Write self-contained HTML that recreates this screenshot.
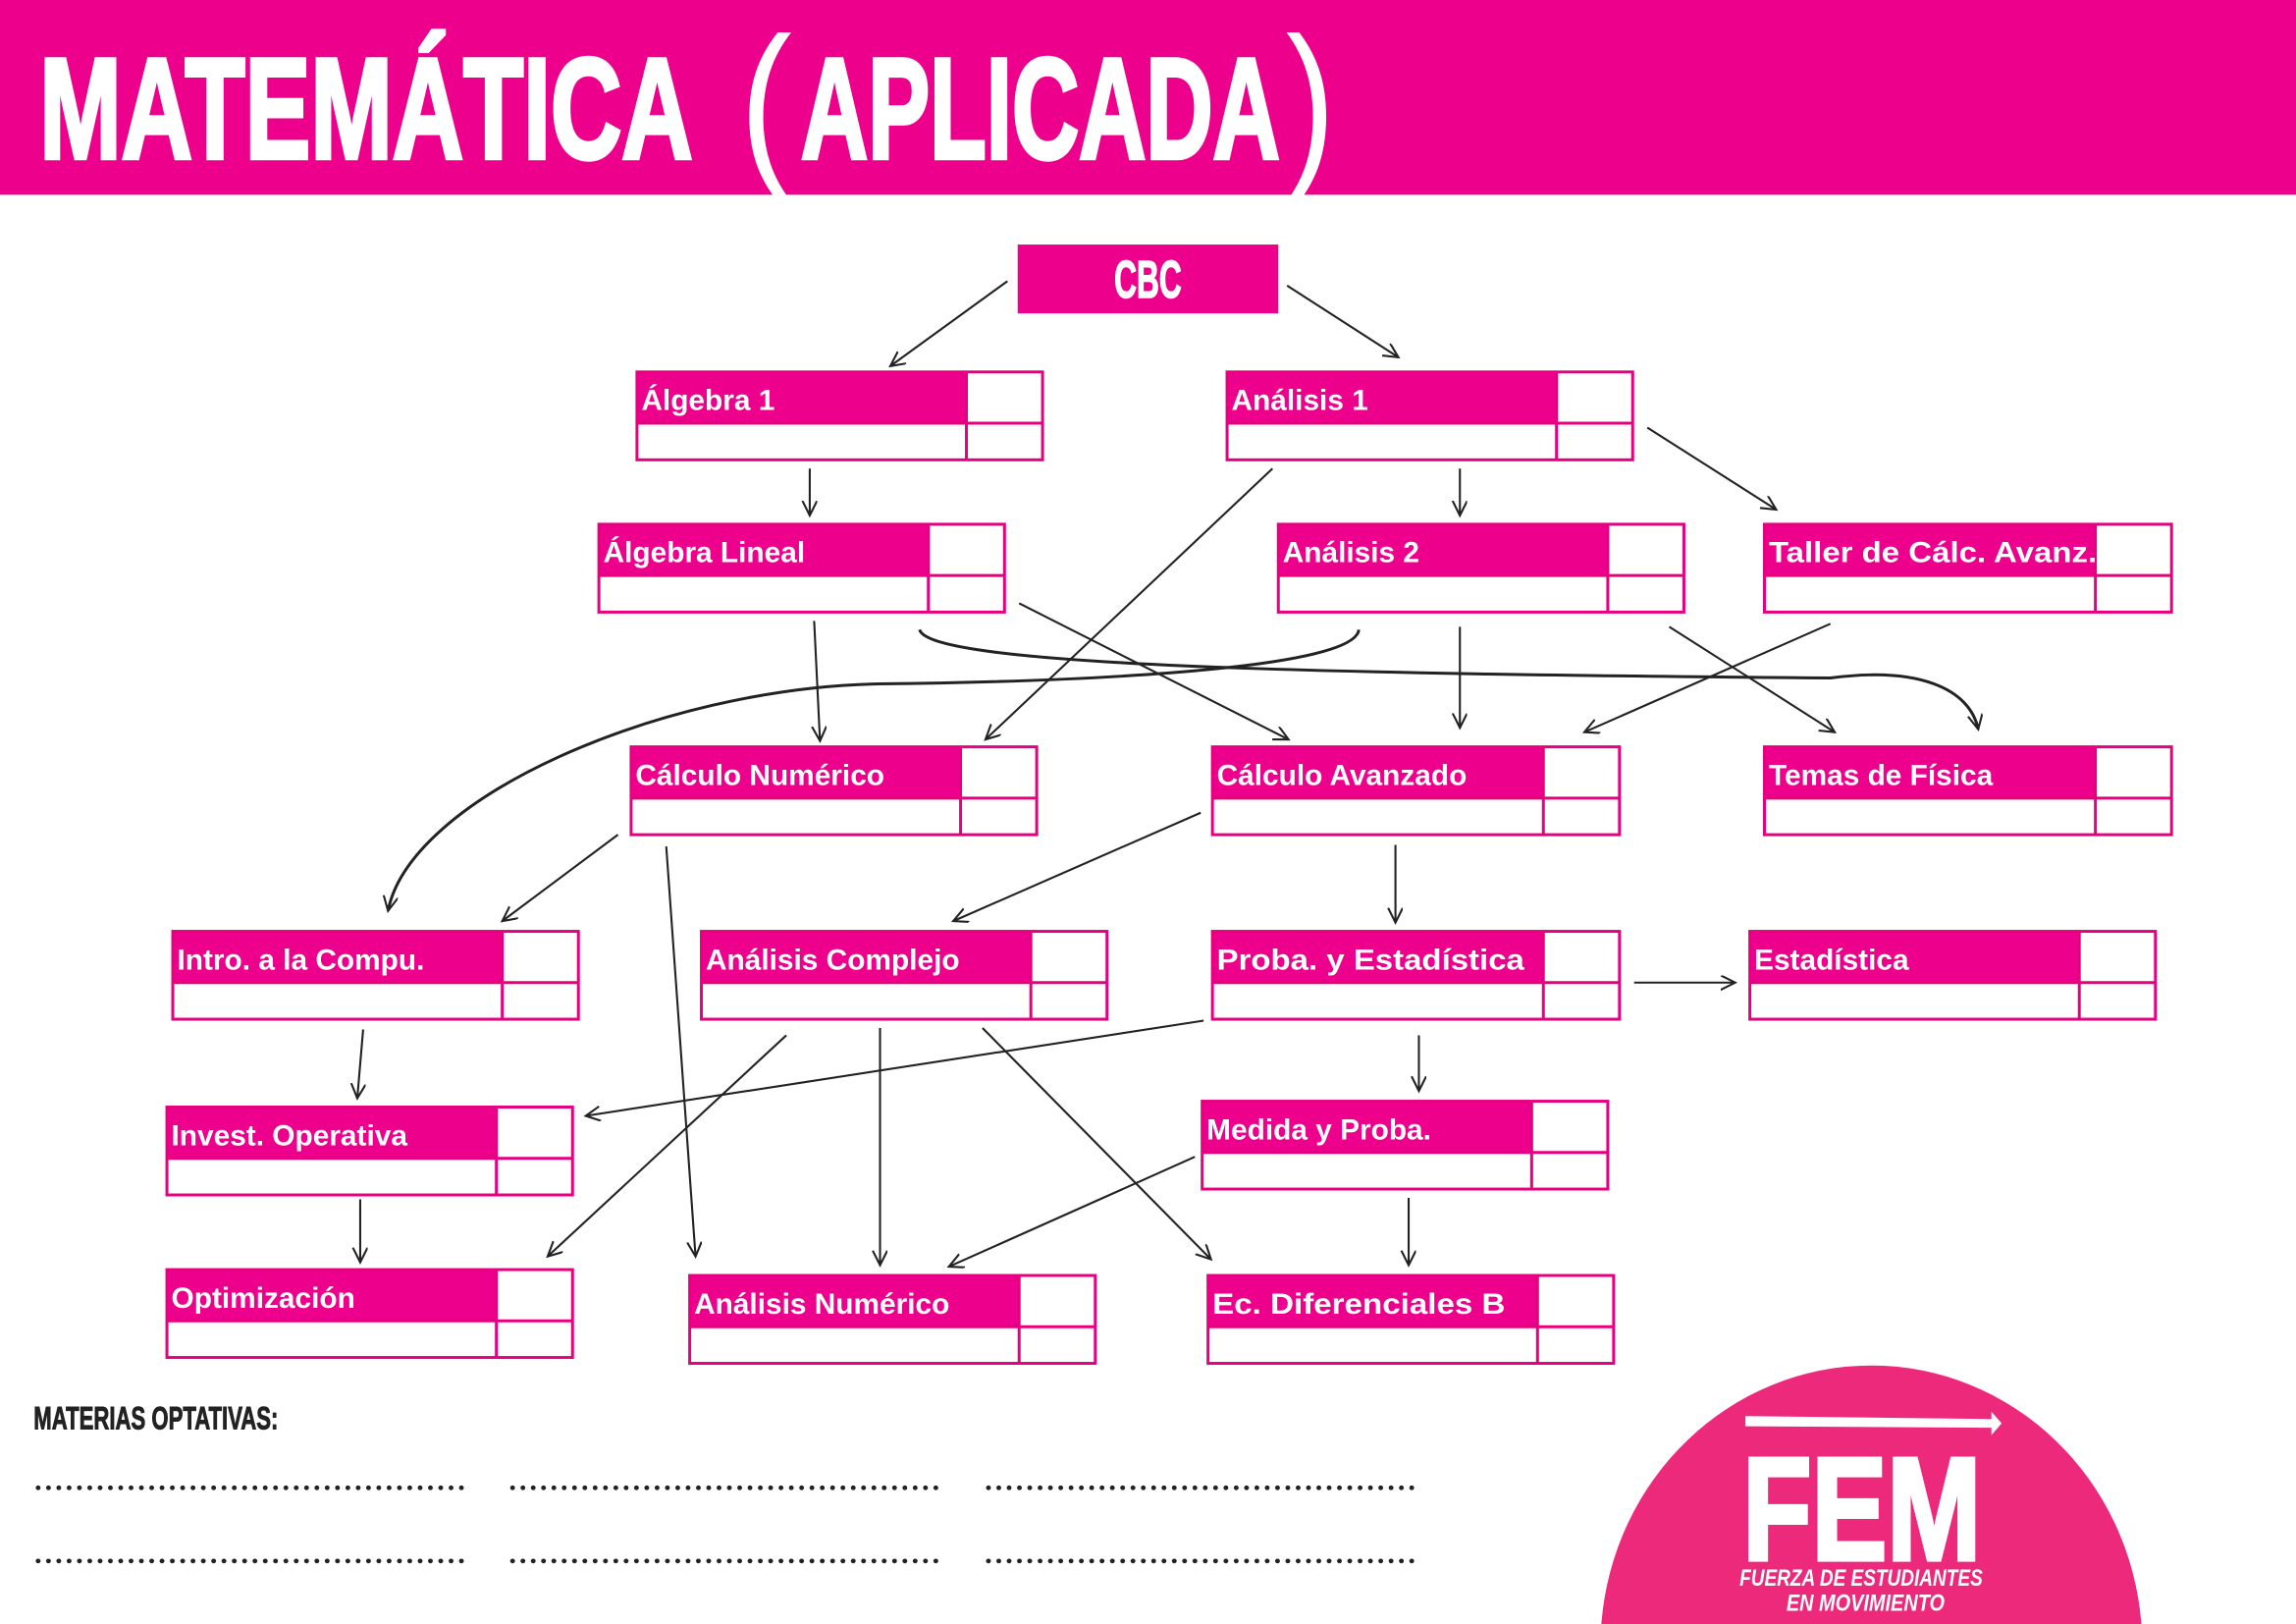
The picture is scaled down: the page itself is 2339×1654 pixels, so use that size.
<!DOCTYPE html>
<html><head><meta charset="utf-8"><style>
html,body{margin:0;padding:0;background:#fff;width:2339px;height:1654px;overflow:hidden;}
svg{display:block;overflow:hidden;}
</style></head><body>
<svg width="2339" height="1654" viewBox="0 0 1568 1109" preserveAspectRatio="none" xmlns="http://www.w3.org/2000/svg">
<defs>
<marker id="a" markerWidth="14" markerHeight="14" refX="10" refY="5" orient="auto" markerUnits="userSpaceOnUse">
<path d="M0,0 L10,5 L0,10" fill="none" stroke="#222" stroke-width="1.4"/>
</marker>
</defs>
<rect x="0" y="0" width="1568" height="133" fill="#ec008c"/>
<g fill="#fff" stroke="#fff" stroke-width="3" font-family="Liberation Sans Narrow, Liberation Sans, sans-serif" font-weight="bold">
<text x="27" y="108" font-size="98" textLength="446" lengthAdjust="spacingAndGlyphs">MATEMÁTICA</text>
<text x="547" y="108" font-size="98" textLength="327" lengthAdjust="spacingAndGlyphs">APLICADA</text>
</g>
<g fill="#fff" font-family="Liberation Sans Narrow, Liberation Sans, sans-serif">
<text x="505" y="112" font-size="124" textLength="36" lengthAdjust="spacingAndGlyphs">(</text>
<text x="878" y="112" font-size="124" textLength="34" lengthAdjust="spacingAndGlyphs">)</text>
</g>
<rect x="695" y="167" width="178" height="47" fill="#ec008c"/>
<text x="784" y="203" fill="#fff" stroke="#fff" stroke-width="1" font-family="Liberation Sans Narrow, Liberation Sans, sans-serif" font-weight="bold" font-size="36" text-anchor="middle" textLength="46" lengthAdjust="spacingAndGlyphs">CBC</text>

<g font-family="Liberation Sans, sans-serif" font-weight="bold" font-size="20" fill="#fff">
<g id="boxes"></g>
</g>
<script>
(function(){
var B=[["Álgebra 1",435,254,712,660],["Análisis 1",838,254,1115,1063],["Álgebra Lineal",409,358,686,634],["Análisis 2",873,358,1150,1098],["Taller de Cálc. Avanz.",1205,358,1483,1431,224],["Cálculo Numérico",431,510,708,656],["Cálculo Avanzado",828,510,1106,1054],["Temas de Física",1205,510,1483,1431],["Intro. a la Compu.",118,636,395,343],["Análisis Complejo",479,636,756,704],["Proba. y Estadística",828,636,1106,1054,210],["Estadística",1195,636,1472,1420],["Invest. Operativa",114,756,391,339],["Medida y Proba.",821,752,1098,1046],["Optimización",114,867,391,339],["Análisis Numérico",471,871,748,696],["Ec. Diferenciales B",825,871,1102,1050,200]];
var ns="http://www.w3.org/2000/svg",g=document.getElementById("boxes");
function el(t,a){var e=document.createElementNS(ns,t);for(var k in a)e.setAttribute(k,a[k]);g.appendChild(e);return e;}
B.forEach(function(b){var x=b[1],y=b[2],x2=b[3],d=b[4],h=60,hh=35;
el("rect",{x:x,y:y,width:d-x,height:hh,fill:"#ec008c"});
el("rect",{x:x,y:y,width:x2-x,height:h,fill:"none",stroke:"#e6007e","stroke-width":2});
el("line",{x1:x,y1:y+hh,x2:x2,y2:y+hh,stroke:"#e6007e","stroke-width":2});
el("line",{x1:d,y1:y,x2:d,y2:y+h,stroke:"#e6007e","stroke-width":2});
var a={x:x+3,y:y+26};if(b[5]){a.textLength=b[5];a.lengthAdjust="spacingAndGlyphs";}
var t=el("text",a);t.textContent=b[0];});
})();
</script>

<g stroke="#222" stroke-width="1.4" fill="none" marker-end="url(#a)">
<line x1="688" y1="192" x2="608" y2="250"/>
<line x1="879" y1="195" x2="955" y2="244"/>
<line x1="553" y1="320" x2="553" y2="352"/>
<line x1="997" y1="320" x2="997" y2="352"/>
<line x1="1125" y1="292" x2="1213" y2="348"/>
<line x1="869" y1="320" x2="673" y2="505"/>
<line x1="556" y1="424" x2="560" y2="506"/>
<line x1="696" y1="412" x2="880" y2="505"/>
<line x1="997" y1="428" x2="997" y2="497"/>
<line x1="1140" y1="428" x2="1253" y2="500"/>
<line x1="1250" y1="426" x2="1082" y2="500"/>
<path stroke-width="2" d="M628,430 C635,455 900,460 1250,463 C1310,455 1345,470 1351,498"/>
<path stroke-width="2" d="M928,430 C925,460 700,466 600,467 C450,470 280,545 265,622"/>
<line x1="422" y1="570" x2="343" y2="629"/>
<line x1="455" y1="578" x2="475" y2="858"/>
<line x1="820" y1="555" x2="651" y2="629"/>
<line x1="953" y1="577" x2="953" y2="630"/>
<line x1="1116" y1="671" x2="1185" y2="671"/>
<line x1="822" y1="697" x2="400" y2="762"/>
<line x1="969" y1="707" x2="969" y2="745"/>
<line x1="248" y1="703" x2="244" y2="750"/>
<line x1="246" y1="819" x2="246" y2="862"/>
<line x1="537" y1="707" x2="374" y2="858"/>
<line x1="601" y1="702" x2="601" y2="864"/>
<line x1="671" y1="702" x2="827" y2="860"/>
<line x1="816" y1="790" x2="648" y2="865"/>
<line x1="962" y1="818" x2="962" y2="864"/>
</g>

<text x="23" y="976" font-family="Liberation Sans Narrow, Liberation Sans, sans-serif" font-weight="bold" font-size="22" fill="#222" stroke="#222" stroke-width="0.6" textLength="167" lengthAdjust="spacingAndGlyphs">MATERIAS OPTATIVAS:</text>
<g stroke="#222" stroke-width="3.2" stroke-linecap="round" stroke-dasharray="0.1 6.95">
<line x1="26" y1="1016" x2="320" y2="1016"/><line x1="350" y1="1016" x2="644" y2="1016"/><line x1="675" y1="1016" x2="969" y2="1016"/>
<line x1="26" y1="1066" x2="320" y2="1066"/><line x1="350" y1="1066" x2="644" y2="1066"/><line x1="675" y1="1066" x2="969" y2="1066"/>
</g>

<path d="M1093.6,1109 A185,192 0 0 1 1462.4,1109 Z" fill="#ec297b"/>
<path d="M1192,967 L1360,969 L1360,964 L1367,972 L1360,980 L1360,975 L1192,974 Z" fill="#fff"/>
<text x="1190" y="1065" font-family="Liberation Sans Narrow, Liberation Sans, sans-serif" font-weight="bold" font-size="100" fill="#fff" stroke="#fff" stroke-width="3" textLength="163" lengthAdjust="spacingAndGlyphs">FEM</text>
<text x="1188" y="1083" font-family="Liberation Sans Narrow, Liberation Sans, sans-serif" font-weight="bold" font-style="italic" font-size="16" fill="#fff" textLength="166" lengthAdjust="spacingAndGlyphs">FUERZA DE ESTUDIANTES</text>
<text x="1220" y="1100" font-family="Liberation Sans Narrow, Liberation Sans, sans-serif" font-weight="bold" font-style="italic" font-size="16" fill="#fff" textLength="108" lengthAdjust="spacingAndGlyphs">EN MOVIMIENTO</text>
</svg>
</body></html>
